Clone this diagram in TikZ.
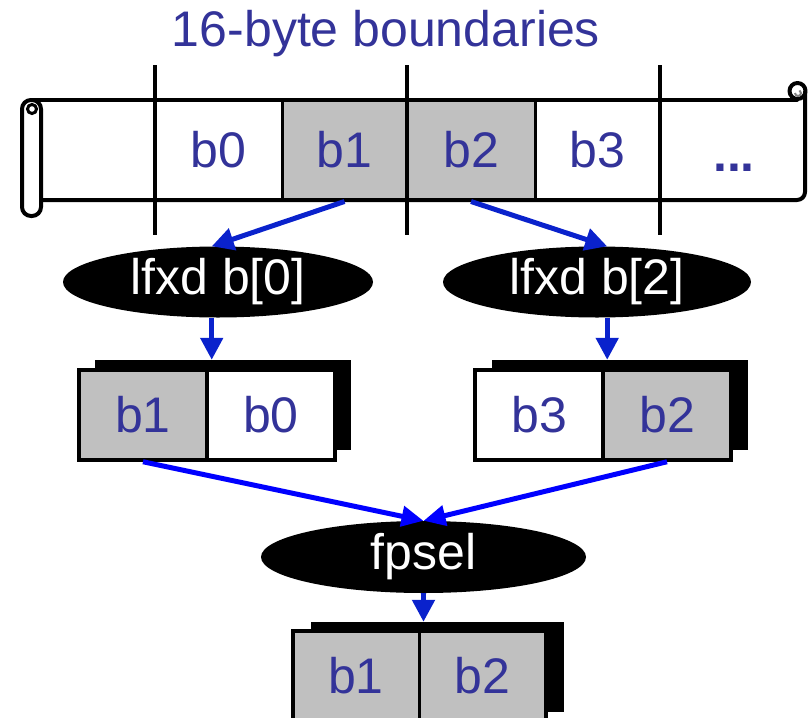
\documentclass[tikz,border=0pt]{standalone}
\usepackage{fontspec}
\setmainfont{Liberation Sans}
\usetikzlibrary{shapes.geometric,arrows.meta,calc}
\definecolor{txt}{RGB}{51,51,153}
\definecolor{arrA}{RGB}{10,34,204}
\definecolor{arrB}{RGB}{0,0,255}
\definecolor{cellgray}{RGB}{192,192,192}
\begin{document}
\begin{tikzpicture}[x=1pt,y=-1pt,
  bigfont/.style={font=\fontsize{50}{60}\selectfont},
  lbl/.style={bigfont,text=txt},
  scell/.style={lbl,draw=black,line width=3pt,minimum height=100pt,inner sep=0pt},
  bcell/.style={lbl,draw=black,line width=3.5pt,minimum width=128pt,minimum height=90pt,inner sep=0pt},
  shadowbox/.style={fill=black,minimum width=256pt,minimum height=90pt,inner sep=0pt},
  ell/.style={ellipse,fill=black,text=white,bigfont,inner sep=0pt},
  sc/.style={line width=4pt,line cap=round,line join=round},
  arA/.style={draw=arrA,line width=5pt,-{Triangle[length=22pt,width=22pt]}},
  arB/.style={draw=arrB,line width=5pt,-{Triangle[length=22pt,width=20pt]}}
]
\useasboundingbox (0,0) rectangle (810,717);
\clip (0,0) rectangle (810,717);

% title
\node[lbl,anchor=base] (title) at (386,47) {16-byte boundaries};

% scroll body
\fill[white] (41,100) rectangle (805,200);
\node[scell,fill=white,minimum width=127pt] (s0) at (218.5,150) {b0};
\node[scell,fill=cellgray,minimum width=125pt] (s1) at (344.5,150) {b1};
\node[scell,fill=cellgray,minimum width=128pt] (s2) at (471,150) {b2};
\node[scell,fill=white,minimum width=125pt] (s3) at (597.5,150) {b3};
\node[lbl,font=\fontsize{50}{60}\selectfont\bfseries,anchor=base] (sdots) at (734,171) {...};

% scroll outline
\draw[sc] (31,100) -- (797,100);
\draw[sc,rounded corners=8pt] (41,200) -- (805,200) -- (805,92);
\draw[sc,rounded corners=9pt] (22,100) rectangle (41,216);
\draw[line width=3pt] (32,109) circle[radius=4.5];
\draw[sc] (797.5,91) circle[radius=8];
\draw[line width=2pt,gray] (795,93) arc[start angle=180,end angle=-60,radius=3];

% 16-byte boundary lines
\draw[line width=4pt] (155,65) -- (155,235);
\draw[line width=4pt] (407,65) -- (407,235);
\draw[line width=4pt] (660,65) -- (660,235);

% ellipses
\node[ell,minimum width=310pt,minimum height=71pt] (e1) at (218,282) {lfxd b[0]};
\node[ell,minimum width=308pt,minimum height=71pt] (e2) at (597,282) {lfxd b[2]};
\node[ell,minimum width=325pt,minimum height=72pt] (f) at (423.5,557) {fpsel};

% left register
\node[shadowbox] (Ls) at (223,405) {};
\node[bcell,fill=cellgray] (L1) at (143,415) {b1};
\node[bcell,fill=white] (L0) at (271,415) {b0};

% right register
\node[shadowbox] (Rs) at (620,405) {};
\node[bcell,fill=white] (R3) at (539,415) {b3};
\node[bcell,fill=cellgray] (R2) at (667,415) {b2};

% result register
\node[shadowbox,minimum width=253pt] (Bs) at (437.5,667) {};
\node[bcell,fill=cellgray,minimum width=126.5pt] (B1) at (356,676) {b1};
\node[bcell,fill=cellgray,minimum width=126.5pt] (B2) at (482.5,676) {b2};

% arrows
\draw[arA] (s1.south) -- (e1.100);
\draw[arA] (s2.south) -- (e2.74);
\draw[arA] (e1.260) -- (e1.260 |- Ls.north);
\draw[arA] (e2.286) -- (e2.286 |- Rs.north);
\draw[arB] (L1.south) -- (f.north);
\draw[arB] (R2.south) -- (f.north);
\draw[arA] (f.south) -- (f.south |- Bs.north);
\end{tikzpicture}
\end{document}
